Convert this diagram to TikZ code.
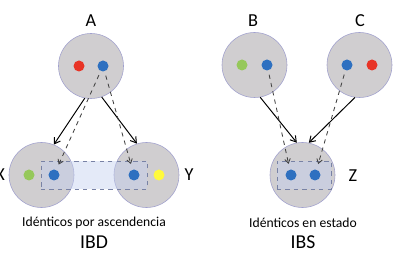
\documentclass[tikz,border=0pt]{standalone}
\usepackage{fontspec}
\setmainfont{Carlito}
\usetikzlibrary{arrows.meta}
\definecolor{gris}{RGB}{208,206,208}
\definecolor{borde}{RGB}{160,160,205}
\definecolor{rojo}{RGB}{232,52,38}
\definecolor{azul}{RGB}{46,112,192}
\definecolor{verde}{RGB}{150,200,90}
\definecolor{amarillo}{RGB}{255,250,60}
\definecolor{marco}{RGB}{120,130,165}
\definecolor{banda}{RGB}{195,208,240}
\begin{document}
\begin{tikzpicture}[
			x=0.025cm, y=-0.025cm,
			individuo/.style={draw=borde, fill=gris, circle, line width=0.4pt, minimum size=1.625cm, inner sep=0pt},
			alelo/.style={circle, minimum size=0.275cm, inner sep=0pt},
			caja/.style={draw=marco, dashed, fill=banda, fill opacity=0.45, line width=0.5pt, inner sep=0pt, minimum height=0.7cm},
			etiqueta/.style={font=\fontsize{13}{15}\selectfont},
			titulo/.style={font=\fontsize{9.7}{12}\selectfont},
			sigla/.style={font=\fontsize{14}{16}\selectfont},
			herencia/.style={draw, -{Straight Barb[length=4pt, width=5pt]}, line width=0.7pt},
			copia/.style={draw, dashed, -{Straight Barb[length=3pt, width=4pt]}, line width=0.6pt, black!75, shorten <=3pt, shorten >=4pt}
			]
			\useasboundingbox (0,0) rectangle (400,267);
			
			% individuos
			\node[individuo] (A) at (91,66) {};
			\node[individuo] (X) at (41.5,175) {};
			\node[individuo] (Y) at (146.5,175) {};
			\node[individuo] (B) at (254.5,65) {};
			\node[individuo] (C) at (359.5,65) {};
			\node[individuo] (Z) at (302.5,175) {};
			
			% cajas de alelos identicos
			\node[caja, minimum width=2.65cm] (ibd) at (94,175) {};
			\node[caja, minimum width=1.35cm] (ibs) at (304,175) {};
			
			% alelos
			\node[alelo, fill=rojo] (a-rojo) at (79,66) {};
			\node[alelo, fill=azul] (a-azul) at (103,66) {};
			\node[alelo, fill=verde] (x-verde) at (29,175) {};
			\node[alelo, fill=azul] (x-azul) at (54,175) {};
			\node[alelo, fill=azul] (y-azul) at (134,175) {};
			\node[alelo, fill=amarillo] (y-amarillo) at (159,175) {};
			\node[alelo, fill=verde] (b-verde) at (242,65) {};
			\node[alelo, fill=azul] (b-azul) at (267,65) {};
			\node[alelo, fill=azul] (c-azul) at (347,65) {};
			\node[alelo, fill=rojo] (c-rojo) at (372,65) {};
			\node[alelo, fill=azul] (z-izq) at (291,175) {};
			\node[alelo, fill=azul] (z-der) at (315,175) {};
			
			% nombres
			\node[etiqueta] (nA) at (91,21) {A};
			\node[etiqueta] (nB) at (253,21) {B};
			\node[etiqueta] (nC) at (360,21) {C};
			\node[etiqueta] (nX) at (0,175) {X};
			\node[etiqueta] (nY) at (189,175) {Y};
			\node[etiqueta] (nZ) at (353,176) {Z};
			
			% flechas
			\path[herencia] (A.259) -- (X.68);
			\path[herencia] (A.289) -- (Y.107);
			\path[herencia] (B.280) -- (Z.100);
			\path[herencia] (C.262) -- (Z.79);
			\path[copia] (a-azul) -- (x-azul);
			\path[copia] (a-azul) -- (y-azul);
			\path[copia] (b-azul) -- (z-izq);
			\path[copia] (c-azul) -- (z-der);
			
			% textos
			\node[titulo] (t-ibd) at (94,223) {Idénticos por ascendencia};
			\node[sigla] (s-ibd) at (94,242) {IBD};
			\node[titulo] (t-ibs) at (303,223) {Idénticos en estado};
			\node[sigla] (s-ibs) at (303,242) {IBS};
		\end{tikzpicture}
\end{document}
